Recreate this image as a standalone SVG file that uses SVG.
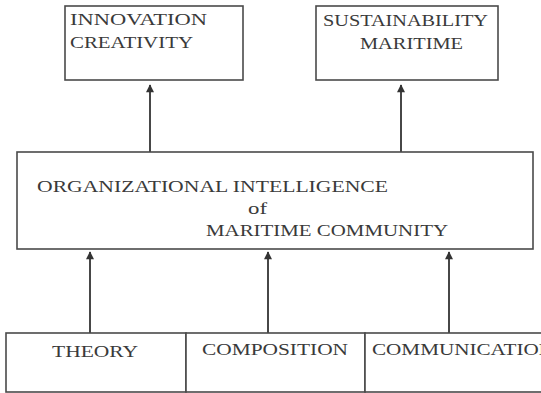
<svg xmlns="http://www.w3.org/2000/svg" width="541" height="393" viewBox="0 0 541 393">
<defs>
<style>
.box{fill:#fff;stroke:#4a4a4a;stroke-width:1.6}
.t{font-family:"Liberation Serif","Times New Roman",serif;font-size:17px;fill:#3a3a3a}
.c{stroke:#333;stroke-width:1.8;fill:none}
</style>
<marker id="ah" viewBox="0 0 10 10" refX="9" refY="5" markerWidth="10" markerHeight="8" markerUnits="userSpaceOnUse" orient="auto">
<path d="M0,0 L10,5 L0,10 Z" fill="#333"/>
</marker>
</defs>
<rect width="541" height="393" fill="#fff"/>
<g id="connectors">
<line class="c" x1="150" y1="152" x2="150" y2="85" marker-end="url(#ah)"/>
<line class="c" x1="401" y1="152" x2="401" y2="85" marker-end="url(#ah)"/>
<line class="c" x1="90" y1="333" x2="90" y2="252" marker-end="url(#ah)"/>
<line class="c" x1="268" y1="333" x2="268" y2="252" marker-end="url(#ah)"/>
<line class="c" x1="449" y1="333" x2="449" y2="252" marker-end="url(#ah)"/>
</g>
<g id="innovation">
<rect class="box" x="65" y="6" width="178" height="74"/>
<text class="t" x="70" y="25" textLength="137" lengthAdjust="spacingAndGlyphs">INNOVATION</text>
<text class="t" x="70" y="48" textLength="123" lengthAdjust="spacingAndGlyphs">CREATIVITY</text>
</g>
<g id="sustainability">
<rect class="box" x="316" y="6" width="182" height="74"/>
<text class="t" x="323" y="26" textLength="165" lengthAdjust="spacingAndGlyphs">SUSTAINABILITY</text>
<text class="t" x="360" y="49" textLength="103" lengthAdjust="spacingAndGlyphs">MARITIME</text>
</g>
<g id="organizational">
<rect class="box" x="17" y="152" width="516" height="97"/>
<text class="t" x="37" y="192" textLength="351" lengthAdjust="spacingAndGlyphs">ORGANIZATIONAL INTELLIGENCE</text>
<text class="t" x="248" y="214" textLength="19" lengthAdjust="spacingAndGlyphs">of</text>
<text class="t" x="206" y="236" textLength="242" lengthAdjust="spacingAndGlyphs">MARITIME COMMUNITY</text>
</g>
<g id="theory">
<rect class="box" x="6" y="333" width="180" height="59"/>
<text class="t" x="52" y="357" textLength="86" lengthAdjust="spacingAndGlyphs">THEORY</text>
</g>
<g id="composition">
<rect class="box" x="186" y="333" width="179" height="59"/>
<text class="t" x="202" y="355" textLength="146" lengthAdjust="spacingAndGlyphs">COMPOSITION</text>
</g>
<g id="communication">
<rect class="box" x="365" y="333" width="190" height="59"/>
<text class="t" x="372" y="355" textLength="182" lengthAdjust="spacingAndGlyphs">COMMUNICATION</text>
</g>
</svg>
